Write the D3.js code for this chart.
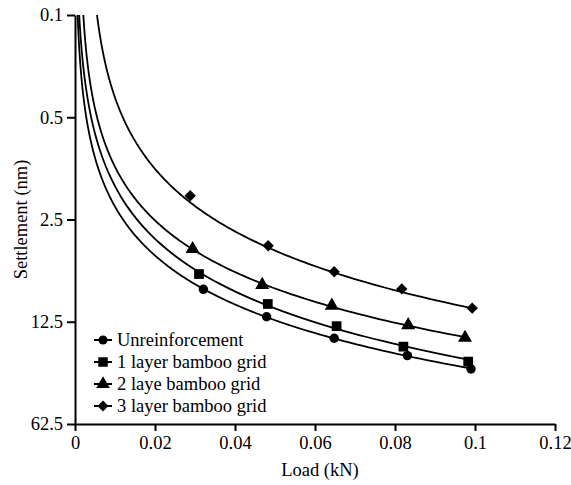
<!DOCTYPE html>
<html>
<head>
<meta charset="utf-8">
<script src="https://cdn.jsdelivr.net/npm/d3@7"></script>
<style>
  body { margin: 0; background: #fff; }
  text { font-family: "Liberation Serif", "Times New Roman", serif; fill: #000; }
</style>
</head>
<body>
<div id="chart"></div>
<script>
// chart data
const seriesNames = ["Unreinforcement", "1 layer bamboo grid", "2 laye bamboo grid", "3 layer bamboo grid"];
const loadUnreinf = [0.0321, 0.0479, 0.0648, 0.0831, 0.0990];
const settleUnreinf = [7.50, 11.55, 16.2, 21.3, 26.3];
const load1Layer = [0.0310, 0.0482, 0.0654, 0.0821, 0.0983];
const settle1Layer = [5.90, 9.45, 13.4, 18.5, 23.4];
const load2Layer = [0.0294, 0.0468, 0.0642, 0.0833, 0.0975];
const settle2Layer = [3.98, 7.0, 9.7, 13.2, 16.1];
const load3Layer = [0.0288, 0.0483, 0.0648, 0.0817, 0.0993];
const settle3Layer = [1.72, 3.78, 5.69, 7.46, 10.1];

// fitted trend curves: settlement = coef * (load - shift) ^ pow
const fitCoef = [340.4, 363.2, 223.6, 195.2];
const fitPow = [1.111, 1.195, 1.130, 1.265];
const fitShift = [0, 0, 0.001, 0.003];

const xTicks = [0, 0.02, 0.04, 0.06, 0.08, 0.1, 0.12];
const yTicks = [0.1, 0.5, 2.5, 12.5, 62.5];

const loads = [loadUnreinf, load1Layer, load2Layer, load3Layer];
const settles = [settleUnreinf, settle1Layer, settle2Layer, settle3Layer];
// diamond = square turned 45deg
const symbols = [d3.symbolCircle, d3.symbolSquare, d3.symbolTriangle, d3.symbolSquare];
const symbolRot = [0, 0, 0, 45];
const symbolSizes = [70, 95, 85, 64];

const W = 571, H = 485;
const margin = {top: 15, right: 16, bottom: 61, left: 75};
const width = W - margin.left - margin.right,
  height = H - margin.top - margin.bottom;
const fontSize = "18.5px";

const svg = d3.select("#chart").append("svg")
  .attr("width", W)
  .attr("height", H);

const g = svg.append("g")
  .attr("transform", "translate(" + margin.left + "," + margin.top + ")");

const x = d3.scaleLinear().domain([0, 0.12]).range([0, width]);
const y = d3.scaleLog().domain([0.1, 62.5]).range([0, height]);

svg.append("defs").append("clipPath").attr("id", "plot")
  .append("rect").attr("x", 0).attr("y", 0).attr("width", width).attr("height", height);

// trend curves
const line = d3.line().x(d => x(d[0])).y(d => y(d[1]));
for (let s = 0; s < 4; s++) {
  const xmax = d3.max(loads[s]);
  const pts = [];
  const n = 400;
  for (let i = 0; i <= n; i++) {
    const t = 1e-5 * Math.pow((xmax - fitShift[s]) / 1e-5, i / n);
    pts.push([fitShift[s] + t, fitCoef[s] * Math.pow(t, fitPow[s])]);
  }
  g.append("path")
    .attr("clip-path", "url(#plot)")
    .attr("d", line(pts))
    .attr("fill", "none")
    .attr("stroke", "#000")
    .attr("stroke-width", 1.8);
}

// markers
for (let s = 0; s < 4; s++) {
  g.selectAll(null)
    .data(d3.zip(loads[s], settles[s]))
    .enter()
    .append("path")
      .attr("transform", d => "translate(" + x(d[0]) + "," + y(d[1]) + ") rotate(" + symbolRot[s] + ")")
      .attr("d", d3.symbol().type(symbols[s]).size(symbolSizes[s]))
      .attr("fill", "#000");
}

// axes
const xAxis = g.append("g")
  .attr("transform", "translate(0," + height + ")")
  .call(d3.axisBottom(x).tickValues(xTicks).tickSize(7).tickSizeOuter(0).tickPadding(5)
    .tickFormat(d => String(d)));
const yAxis = g.append("g")
  .call(d3.axisLeft(y).tickValues(yTicks).tickSize(8).tickSizeOuter(0).tickPadding(4)
    .tickFormat(d => String(d)));

[xAxis, yAxis].forEach(a => {
  a.attr("font-family", null);
  a.selectAll("path, line").attr("stroke", "#000").attr("stroke-width", 2);
  a.selectAll("text").attr("fill", "#000").style("font-size", fontSize);
});

svg.append("text")
  .attr("x", 320).attr("y", 476)
  .attr("text-anchor", "middle")
  .style("font-size", fontSize)
  .text("Load (kN)");

svg.append("text")
  .attr("transform", "translate(27," + (margin.top + height / 2) + ") rotate(-90)")
  .attr("text-anchor", "middle")
  .style("font-size", fontSize)
  .text("Settlement (nm)");

// legend
const legend = svg.append("g").attr("transform", "translate(103,340)");
seriesNames.forEach((name, i) => {
  const row = legend.append("g").attr("transform", "translate(0," + (i * 22) + ")");
  row.append("line").attr("x1", -9).attr("x2", 9).attr("stroke", "#000").attr("stroke-width", 2);
  row.append("path")
    .attr("transform", "rotate(" + symbolRot[i] + ")")
    .attr("d", d3.symbol().type(symbols[i]).size(symbolSizes[i] - 5))
    .attr("fill", "#000");
  row.append("text").attr("x", 14).attr("y", 6).style("font-size", fontSize).text(name);
});
</script>
</body>
</html>
